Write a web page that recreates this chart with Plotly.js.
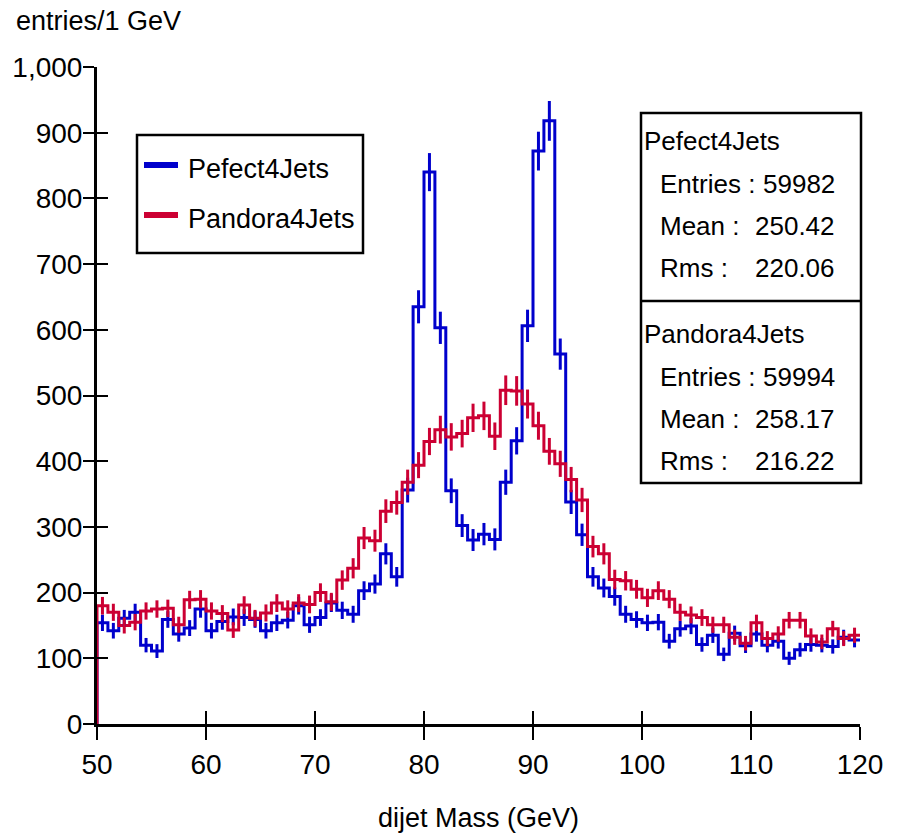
<!DOCTYPE html>
<html>
<head>
<meta charset="utf-8">
<script src="https://cdn.plot.ly/plotly-3.0.1.min.js"></script>
<style>html,body{margin:0;padding:0;background:#fff;}#chart{width:901px;height:839px;}</style>
</head>
<body>
<div id="chart"></div>
<script>
// bin lower edges (1 GeV bins, 50..120)
const binLow = [50,51,52,53,54,55,56,57,58,59,60,61,62,63,64,65,66,67,68,69,
  70,71,72,73,74,75,76,77,78,79,80,81,82,83,84,85,86,87,88,89,
  90,91,92,93,94,95,96,97,98,99,100,101,102,103,104,105,106,107,108,109,
  110,111,112,113,114,115,116,117,118,119];
const binWidth = 1;

// Pefect4Jets (blue)
const perfect = [154,142,161,170,120,111,159,137,146,175,142,156,163,162,159,142,154,158,180,151,
  162,184,173,167,203,213,259,224,356,635,840,603,355,302,280,289,281,368,431,606,
  872,918,563,338,288,224,207,194,167,159,154,155,126,145,149,121,135,106,138,119,
  137,120,126,100,113,121,120,118,132,128];

// Pandora4Jets (red)
const pandora = [180,170,150,155,172,175,176,151,189,190,172,168,143,181,161,169,184,175,184,182,
  200,186,219,237,283,279,324,337,368,394,430,448,437,442,466,469,438,508,507,487,
  454,415,396,372,341,270,259,220,218,205,192,203,190,170,166,162,151,151,132,123,
  154,130,137,158,158,134,125,145,130,135];

const names = ["Pefect4Jets", "Pandora4Jets"];
const colors = ["rgb(0,0,204)", "rgb(204,0,51)"];
const stats = [
  {entries: "59982", mean: "250.42", rms: "220.06"},
  {entries: "59994", mean: "258.17", rms: "216.22"}
];
const xTicks = [50,60,70,80,90,100,110,120];
const yTicks = [0,100,200,300,400,500,600,700,800,900,1000];

const FONT = "'Liberation Sans', Arial, sans-serif";

function stepTrace(vals, color, name) {
  const xs = [binLow[0]];
  const ys = [0];
  for (let i = 0; i < vals.length; i++) { xs.push(binLow[i]); ys.push(vals[i]); }
  xs.push(binLow[binLow.length - 1] + binWidth); ys.push(vals[vals.length - 1]);
  return {x: xs, y: ys, type: 'scatter', mode: 'lines', name: name,
    line: {shape: 'hv', color: color, width: 3}, showlegend: false, hoverinfo: 'skip'};
}
function errTrace(vals, color, name) {
  return {x: binLow.map(v => v + binWidth / 2), y: vals, type: 'scatter', mode: 'markers',
    xaxis: 'x2', yaxis: 'y2', name: name,
    marker: {size: 1, color: 'rgba(0,0,0,0)'},
    error_y: {type: 'data', array: vals.map(v => Math.sqrt(v)), visible: true,
      color: color, thickness: 3, width: 0},
    showlegend: false, hoverinfo: 'skip'};
}

// pixel -> paper helpers (plot area: x 97..860, y 67..724)
const L = 97, R = 860, T = 67, B = 724;
const px = v => (v - L) / (R - L);
const py = v => (B - v) / (B - T);

const shapes = [];
const annotations = [];
function txt(text, x, y, anchor, size) {
  annotations.push({text: text, xref: 'paper', yref: 'paper', x: px(x), y: py(y),
    xanchor: anchor, yanchor: 'middle', showarrow: false,
    font: {family: FONT, size: size, color: '#000'}});
}
// legend
shapes.push({type: 'rect', xref: 'paper', yref: 'paper', x0: px(137), x1: px(363), y0: py(135), y1: py(253),
  line: {color: '#000', width: 2.5}, fillcolor: '#fff', layer: 'above'});
const legY = [165, 215];
names.forEach((n, i) => {
  shapes.push({type: 'line', xref: 'paper', yref: 'paper', x0: px(144), x1: px(178), y0: py(legY[i]), y1: py(legY[i]),
    line: {color: colors[i], width: 6}, layer: 'above'});
  txt(n, 186, legY[i] + 4, 'left', 27);
});
// stats box
shapes.push({type: 'rect', xref: 'paper', yref: 'paper', x0: px(641), x1: px(861), y0: py(113), y1: py(483),
  line: {color: '#000', width: 2.5}, fillcolor: '#fff', layer: 'above'});
shapes.push({type: 'line', xref: 'paper', yref: 'paper', x0: px(641), x1: px(861), y0: py(301), y1: py(301),
  line: {color: '#000', width: 2.5}, layer: 'above'});
const blockTop = [139, 332];
const SS = 26;
stats.forEach((s, i) => {
  const b = blockTop[i];
  txt(names[i], 642, b + 2, 'left', SS);
  txt("Entries :", 658, b + 45, 'left', SS);
  txt(s.entries, 837, b + 45, 'right', SS);
  txt("Mean :", 658, b + 87, 'left', SS);
  txt(s.mean, 837, b + 87, 'right', SS);
  txt("Rms :", 658, b + 129, 'left', SS);
  txt(s.rms, 837, b + 129, 'right', SS);
});
// y title
txt("entries/1 GeV", 14, 21, 'left', 27);

const data = [
  stepTrace(perfect, colors[0], names[0]),
  stepTrace(pandora, colors[1], names[1]),
  errTrace(perfect, colors[0], names[0]),
  errTrace(pandora, colors[1], names[1])
];

const layout = {
  width: 901, height: 839,
  margin: {l: L, r: 901 - R, t: T, b: 839 - B},
  paper_bgcolor: '#fff', plot_bgcolor: '#fff',
  font: {family: FONT, size: 28, color: '#000'},
  showlegend: false,
  xaxis: {range: [50, 120], tickvals: xTicks, ticktext: xTicks.map(String),
    ticks: 'outside', ticklen: 13, tickwidth: 2, tickcolor: '#000',
    showline: true, linewidth: 3, linecolor: '#000', showgrid: false, zeroline: false,
    tickfont: {family: FONT, size: 28}, fixedrange: true,
    title: {text: 'dijet Mass (GeV)', font: {family: FONT, size: 27}, standoff: 30}},
  yaxis: {range: [0, 1000], tickvals: yTicks, ticktext: yTicks.map(v => v.toLocaleString('en-US')),
    ticks: 'outside', ticklen: 11, tickwidth: 2, tickcolor: '#000', ticklabelstandoff: -5,
    showline: true, linewidth: 3, linecolor: '#000', showgrid: false, zeroline: false,
    tickfont: {family: FONT, size: 28}, fixedrange: true},
  xaxis2: {range: [50, 120], overlaying: 'x', anchor: 'y2', side: 'bottom', tickvals: xTicks,
    ticks: 'inside', ticklen: 13, tickwidth: 2, tickcolor: '#000', showticklabels: false,
    showline: false, showgrid: false, zeroline: false, fixedrange: true},
  yaxis2: {range: [0, 1000], overlaying: 'y', anchor: 'x2', side: 'left', tickvals: yTicks,
    ticks: 'inside', ticklen: 11, tickwidth: 2, tickcolor: '#000', showticklabels: false,
    showline: false, showgrid: false, zeroline: false, fixedrange: true},
  shapes: shapes,
  annotations: annotations
};

Plotly.newPlot('chart', data, layout, {displayModeBar: false, staticPlot: true});
</script>
</body>
</html>
